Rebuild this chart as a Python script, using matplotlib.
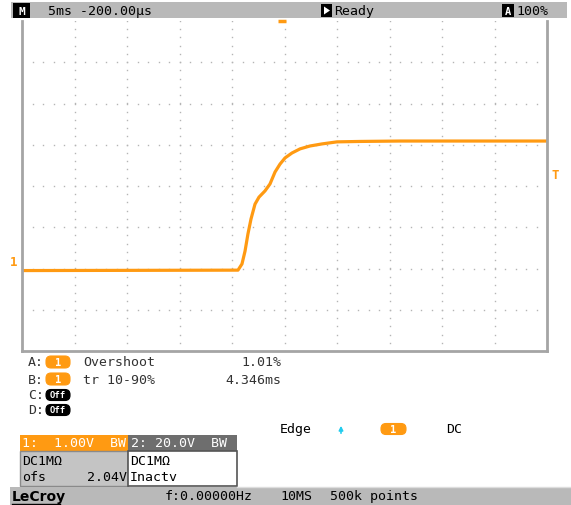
import matplotlib
matplotlib.use('Agg')
import matplotlib.pyplot as plt
import numpy as np
from matplotlib.patches import Rectangle, FancyBboxPatch, Polygon

# ---------------- data ----------------
time_ms = [-25.0, -4.43, -4.05, -3.76, -3.48, -3.19, -2.81, -2.43, -1.86, -1.38,
           -0.90, -0.43, 0.05, 0.71, 1.48, 2.43, 3.57, 5.0, 7.19, 11.0, 15.76, 25.0]
volts = [-2.05, -2.04, -1.89, -1.58, -1.16, -0.80, -0.44, -0.27, -0.12, 0.05,
         0.34, 0.53, 0.68, 0.80, 0.90, 0.97, 1.02, 1.07, 1.08, 1.09, 1.09, 1.09]
ms_per_div = 5
v_per_div = 1
x_divs = 10
y_divs = 8
trigger_delay_ms = -0.2
trigger_level_v = 0.28
ch1_marker_v = -1.83

header_left = "5ms -200.00µs"
header_status = "Ready"
header_zoom = "100%"
meas_labels = ["A:", "B:", "C:", "D:"]
meas_names = ["Overshoot", "tr 10-90%", "", ""]
meas_values = ["1.01%", "4.346ms", "", ""]
ch1_lines = ["1:  1.00V  BW", "DC1MΩ", "ofs", "2.04V"]
ch2_lines = ["2: 20.0V  BW", "DC1MΩ", "Inactv"]
footer = ["LeCroy", "f:0.00000Hz", "10MS", "500k points"]

ORANGE = '#FF9A12'
GRAYBAR = '#b9b9b9'
FONT = 'DejaVu Sans Mono'
FS = 9.5

W, H = 571, 506
fig = plt.figure(figsize=(W / 100, H / 100), dpi=100)
fig.patch.set_facecolor('white')

ov = fig.add_axes([0, 0, 1, 1])
ov.set_xlim(0, W)
ov.set_ylim(H, 0)
ov.axis('off')

def txt(x, y, s, color='black', ha='left', fs=FS, weight='normal', **kw):
    ov.text(x, y, s, color=color, ha=ha, va='center', fontsize=fs,
            family=FONT, fontweight=weight, **kw)

def pill(x, y, w, h, fc, label, tc='white', fs=7.5):
    ov.add_patch(FancyBboxPatch((x, y), w, h, boxstyle='round,pad=0,rounding_size=5',
                                fc=fc, ec='black' if fc == 'black' else fc, lw=0.8))
    ov.text(x + w / 2, y + h / 2, label, color=tc, ha='center', va='center',
            fontsize=fs, family=FONT, fontweight='bold')

# header bar
ov.add_patch(Rectangle((11, 3), 556, 16, fc=GRAYBAR, ec='none'))
ov.add_patch(Rectangle((13, 4), 17, 15, fc='black', ec='none'))
txt(21.5, 11.5, "M", color='white', ha='center', fs=8, weight='bold')
txt(48, 11.5, header_left)
ov.add_patch(Rectangle((321, 5), 11, 13, fc='black', ec='none'))
ov.add_patch(Polygon([[324, 7.5], [324, 15.5], [330, 11.5]], closed=True, fc='white', ec='none'))
txt(334, 11.5, header_status)
ov.add_patch(Rectangle((502, 5), 12, 13, fc='black', ec='none'))
txt(508, 11.5, "A", color='white', ha='center', fs=7.5, weight='bold')
txt(516, 11.5, header_zoom)

# measurement rows
rows_y = [363, 380, 396, 411]
for i, (lab, name, val) in enumerate(zip(meas_labels, meas_names, meas_values)):
    y = rows_y[i]
    txt(28, y, lab, color='#333333')
    if name:
        pill(46, y - 6, 24, 12, ORANGE, "1")
        txt(83, y, name, color='#333333')
        txt(281, y, val, color='#333333', ha='right')
    else:
        pill(46, y - 5.5, 24, 11, 'black', "Off", fs=6.5)

# trigger info
txt(280, 430, "Edge")
ov.annotate('', xy=(341, 424), xytext=(341, 437),
            arrowprops=dict(arrowstyle='-|>', color='#22ccee', lw=1.2, mutation_scale=6))
pill(381, 424.5, 25, 11, ORANGE, "1")
txt(446, 430, "DC")

# channel boxes
ov.add_patch(Rectangle((20, 436), 108, 16, fc=ORANGE, ec='none'))
ov.add_patch(Rectangle((128, 436), 109, 16, fc='#6e6e6e', ec='none'))
ov.add_patch(Rectangle((20, 452), 108, 35, fc='#c4c4c4', ec='#8a8a8a', lw=1))
ov.add_patch(Rectangle((128, 452), 109, 35, fc='white', ec='#555555', lw=1.2))
txt(22, 444, ch1_lines[0], color='white')
txt(131, 444, ch2_lines[0], color='white')
txt(22, 462, ch1_lines[1])
txt(22, 478, ch1_lines[2])
txt(127, 478, ch1_lines[3], ha='right')
txt(130, 462, ch2_lines[1])
txt(130, 478, ch2_lines[2])

# footer
ov.plot([237, 571], [487.5, 487.5], color='#dddddd', lw=1)
ov.add_patch(Rectangle((10, 488), 561, 18, fc=GRAYBAR, ec='none'))
ov.text(12, 497, footer[0], color='black', ha='left', va='center', fontsize=10,
        family='DejaVu Sans', fontweight='bold')
ov.plot([12, 60], [504.5, 504.5], color='black', lw=1)
txt(165, 497, footer[1])
txt(280, 497, footer[2])
txt(330, 497, footer[3])

# ---------------- scope grid axes ----------------
L, T, R, B = 22, 22, 547, 352
ax = fig.add_axes([L / W, 1 - B / H, (R - L) / W, (B - T) / H])
ax.patch.set_alpha(0)
xmax = x_divs / 2 * ms_per_div
ymax = y_divs / 2 * v_per_div
ax.set_xlim(-xmax, xmax)
ax.set_ylim(-ymax, ymax)
ax.set_xticks([]); ax.set_yticks([])
for s in ['left', 'right', 'bottom']:
    ax.spines[s].set_color('#a5a5a5')
    ax.spines[s].set_linewidth(2)
ax.spines['top'].set_visible(False)

dot_kw = dict(ls='none', marker='s', ms=1.0, mec='none', mfc='#b5b5b5')
xv = np.arange(-xmax + ms_per_div, xmax, ms_per_div)
yv = np.arange(-ymax + v_per_div, ymax, v_per_div)
ysub = np.arange(-ymax, ymax + 1e-9, v_per_div / 5)
xsub = np.arange(-xmax, xmax + 1e-9, ms_per_div / 5)
for x in xv:
    ax.plot(np.full_like(ysub, x), ysub, **dot_kw)
for y in yv:
    ax.plot(xsub, np.full_like(xsub, y), **dot_kw)

ax.plot(time_ms, volts, color=ORANGE, lw=2.3, solid_joinstyle='round')

# markers
ax.plot([trigger_delay_ms], [ymax], marker='_', ms=6, mew=2.5, color=ORANGE, clip_on=False)
ax.annotate('T', xy=(xmax, trigger_level_v), xytext=(3, 0), textcoords='offset points',
            color=ORANGE, fontsize=9, family=FONT, fontweight='bold', va='center', ha='left',
            annotation_clip=False)
ax.annotate('1', xy=(-xmax, ch1_marker_v), xytext=(-3, 0), textcoords='offset points',
            color=ORANGE, fontsize=9, family=FONT, fontweight='bold', va='center', ha='right',
            annotation_clip=False)

fig.savefig('out.png', dpi=100)
